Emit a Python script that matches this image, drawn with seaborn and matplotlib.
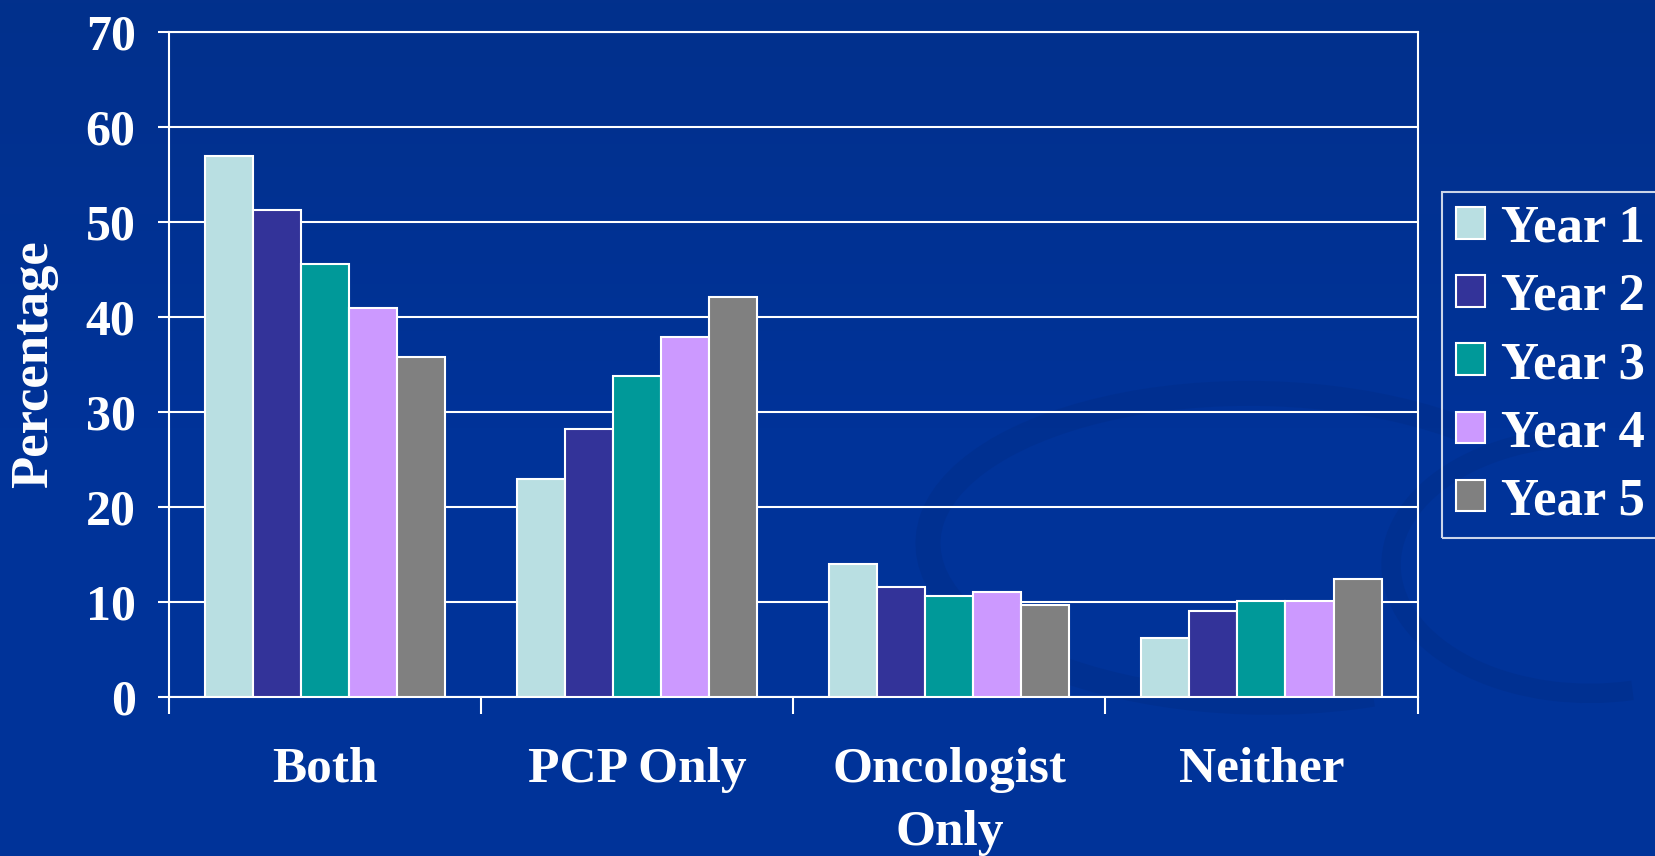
import numpy as np
import pandas as pd
import matplotlib.pyplot as plt
import matplotlib.ticker as mticker
from matplotlib.patches import Arc
from matplotlib.colors import LinearSegmentedColormap
import seaborn as sns

# values
categories = ['Both', 'PCP Only', 'Oncologist\nOnly', 'Neither']
years = ['Year 1', 'Year 2', 'Year 3', 'Year 4', 'Year 5']
year1 = [56.9, 22.9, 14.0, 6.2]
year2 = [51.2, 28.2, 11.6, 9.0]
year3 = [45.6, 33.8, 10.6, 10.1]
year4 = [40.9, 37.9, 11.0, 10.1]
year5 = [35.8, 42.1, 9.7, 12.4]
colors = ['#B9DFE2', '#333399', '#009999', '#CC99FF', '#808080']

rows = []
for yr, vals in zip(years, [year1, year2, year3, year4, year5]):
    for cat, v in zip(categories, vals):
        rows.append({'cat': cat, 'year': yr, 'pct': v})
df = pd.DataFrame(rows)

sns.set_style('white')
plt.rcParams['font.family'] = ['Liberation Serif', 'DejaVu Serif']
plt.rcParams['font.weight'] = 'bold'

bg = '#003399'
fig = plt.figure(figsize=(16.56, 8.56), dpi=100)
fig.patch.set_facecolor(bg)

# background: slight gradient + faint swooshes like the slide template
bax = fig.add_axes([0, 0, 1, 1], zorder=-10)
grad = np.linspace(0, 1, 256).reshape(-1, 1)
cmap = LinearSegmentedColormap.from_list('bgc', ['#02308c', '#003399', '#003399'])
bax.imshow(grad, aspect='auto', cmap=cmap, extent=[0, 1, 0, 1], origin='upper')
swoosh = '#002d88'
bax.add_patch(Arc((0.76, 0.36), 0.40, 0.36, angle=-8, theta1=55, theta2=300,
                  color=swoosh, lw=18, alpha=0.45))
bax.add_patch(Arc((0.96, 0.34), 0.24, 0.30, angle=0, theta1=90, theta2=280,
                  color=swoosh, lw=14, alpha=0.45))
bax.add_patch(Arc((1.05, -0.35), 1.1, 0.7, angle=15, theta1=95, theta2=140,
                  color=swoosh, lw=18, alpha=0.45))
bax.set_xlim(0, 1)
bax.set_ylim(0, 1)
bax.axis('off')

ax = fig.add_axes([0.102, 0.186, 0.754, 0.777])
ax.set_facecolor('none')
sns.barplot(data=df, x='cat', y='pct', hue='year', palette=colors, saturation=1,
            width=0.77, edgecolor='white', linewidth=1.5, ax=ax, zorder=3)

ax.set_ylim(0, 70)
ax.set_xlim(-0.5, 3.5)
ax.yaxis.set_major_locator(mticker.MultipleLocator(10))
ax.grid(axis='y', color='white', linewidth=1.5, zorder=0)
ax.set_axisbelow(True)
for s in ax.spines.values():
    s.set_color('white')
    s.set_linewidth(1.5)

ax.tick_params(axis='y', colors='white', labelsize=36, length=8, width=1.5,
               direction='out', pad=16, left=True)
for t in ax.get_yticklabels():
    t.set_fontweight('bold')
ax.set_xticks(range(4))
ax.set_xticklabels(categories, fontsize=37, fontweight='bold', color='white',
                   linespacing=1.5, va='top')
ax.tick_params(axis='x', which='major', length=0, pad=36)
ax.set_xticks(np.arange(-0.5, 4, 1), minor=True)
ax.tick_params(axis='x', which='minor', length=12, width=1.5, color='white',
               direction='out', bottom=True)

ax.set_xlabel('')
ax.set_ylabel('Percentage', fontsize=38, fontweight='bold', color='white', labelpad=20)

handles, labels = ax.get_legend_handles_labels()
leg = ax.legend(handles, labels, loc='upper left', bbox_to_anchor=(0.871, 0.776),
                bbox_transform=fig.transFigure, borderaxespad=0, frameon=True,
                prop={'weight': 'bold', 'size': 38},
                handlelength=0.55, handleheight=0.55, handletextpad=0.32,
                labelspacing=0.38, borderpad=0.25, fancybox=False)
leg.get_frame().set_facecolor('none')
leg.get_frame().set_edgecolor('white')
leg.get_frame().set_linewidth(1.5)
for t in leg.get_texts():
    t.set_color('white')

fig.savefig('out.png', dpi=100, facecolor=bg)
